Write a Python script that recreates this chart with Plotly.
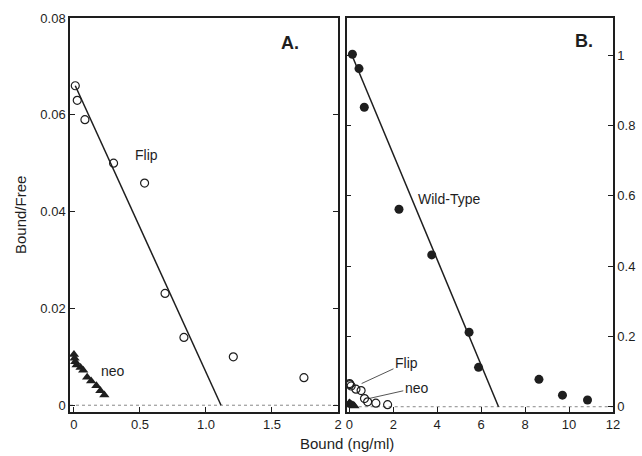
import plotly.graph_objects as go

# ---- data ----
flip_x = [0.01, 0.025, 0.083, 0.30, 0.535, 0.69, 0.833, 1.207, 1.742]
flip_y = [0.066, 0.063, 0.059, 0.050, 0.0459, 0.0231, 0.014, 0.0100, 0.0057]

neo_x = [0.00, 0.005, 0.01, 0.02, 0.05, 0.07, 0.10, 0.13, 0.17, 0.20, 0.23]
neo_y = [0.0105, 0.0097, 0.0090, 0.0083, 0.0078, 0.0072, 0.0058, 0.0050, 0.0040, 0.0030, 0.0021]

wt_x = [0.14, 0.44, 0.68, 2.26, 3.75, 5.45, 5.88, 8.63, 9.70, 10.84]
wt_y = [1.003, 0.962, 0.852, 0.562, 0.432, 0.212, 0.112, 0.078, 0.033, 0.019]

flip_fit_x = [0.01, 1.114]
flip_fit_y = [0.066, 0.0]
wt_fit_x = [0.10, 6.79]
wt_fit_y = [1.003, 0.0]

a_xticks = [0, 0.5, 1.0, 1.5, 2.0]
a_xtext = ["0", "0.5", "1.0", "1.5", "2"]
a_yticks = [0, 0.02, 0.04, 0.06, 0.08]
a_ytext = ["0", "0.02", "0.04", "0.06", "0.08"]
b_xticks = [0, 2, 4, 6, 8, 10, 12]
b_xtext = ["0", "2", "4", "6", "8", "10", "12"]
b_yticks = [0, 0.2, 0.4, 0.6, 0.8, 1.0]
b_ytext = ["0", "0.2", "0.4", "0.6", "0.8", "1"]

INK = "#1e1e1e"
FONT = "Liberation Sans, Arial, sans-serif"

open_marker = dict(symbol="circle-open", size=8, color=INK, line=dict(width=1.2, color=INK))
fill_marker = dict(symbol="circle", size=9, color=INK)
tri_marker = dict(symbol="triangle-up", size=9, color=INK)

fig = go.Figure()

# Panel A
fig.add_trace(go.Scatter(x=flip_fit_x, y=flip_fit_y, mode="lines", line=dict(color=INK, width=1.5),
                         xaxis="x", yaxis="y", showlegend=False))
fig.add_trace(go.Scatter(x=flip_x, y=flip_y, mode="markers", marker=open_marker,
                         xaxis="x", yaxis="y", showlegend=False))
fig.add_trace(go.Scatter(x=neo_x, y=neo_y, mode="markers", marker=tri_marker,
                         xaxis="x", yaxis="y", showlegend=False))

# Panel B
fig.add_trace(go.Scatter(x=wt_fit_x, y=wt_fit_y, mode="lines", line=dict(color=INK, width=1.5),
                         xaxis="x2", yaxis="y2", showlegend=False))
fig.add_trace(go.Scatter(x=wt_x, y=wt_y, mode="markers", marker=fill_marker,
                         xaxis="x2", yaxis="y2", showlegend=False))
fig.add_trace(go.Scatter(x=flip_x, y=flip_y, mode="markers", marker=open_marker,
                         xaxis="x2", yaxis="y2", showlegend=False))
fig.add_trace(go.Scatter(x=neo_x, y=neo_y, mode="markers", marker=tri_marker,
                         xaxis="x2", yaxis="y2", showlegend=False))

W, H = 642, 456


def px(p):
    return p / W


def py(p):
    return 1 - p / H


ydom = [py(412), py(18)]
axis_common = dict(showline=True, linecolor=INK, linewidth=1.5, showgrid=False, zeroline=False,
                   automargin=False,
                   ticks="inside", ticklen=5, tickwidth=1.2, tickcolor=INK,
                   tickfont=dict(family=FONT, size=13, color=INK))

fig.update_layout(
    width=W, height=H, autosize=False,
    margin=dict(l=0, r=0, t=0, b=0, pad=0),
    paper_bgcolor="white", plot_bgcolor="white",
    xaxis=dict(axis_common, domain=[px(70), px(338)], range=[-0.03, 2.0], anchor="y",
               tickvals=a_xticks, ticktext=a_xtext, mirror=True),
    yaxis=dict(axis_common, domain=ydom, range=[-0.0014, 0.08], anchor="x",
               tickvals=a_yticks, ticktext=a_ytext, mirror="ticks"),
    xaxis2=dict(axis_common, domain=[px(346.7), px(613)], range=[-0.12, 12.0], anchor="y2",
                tickvals=b_xticks, ticktext=b_xtext, mirror=True),
    yaxis2=dict(axis_common, domain=ydom, range=[-0.015, 1.106], anchor="x2", side="right",
                tickvals=b_yticks, ticktext=b_ytext, mirror="ticks"),
)

# dotted zero lines
for xr, yr in [("x", "y"), ("x2", "y2")]:
    fig.add_shape(type="line", xref=f"{xr} domain", yref=yr, x0=0, x1=1, y0=0, y1=0,
                  line=dict(color="#888888", width=1, dash="dot"), layer="below")

txt = dict(family=FONT, size=14, color=INK)
ann = [
    dict(x=0.55, y=0.0516, xref="x", yref="y", text="Flip", showarrow=False, font=txt),
    dict(x=0.295, y=0.0071, xref="x", yref="y", text="neo", showarrow=False, font=txt),
    dict(x=1.64, y=0.0749, xref="x", yref="y", text="<b>A.</b>", showarrow=False,
         font=dict(family=FONT, size=18, color=INK)),
    dict(x=3.04, y=0.59, xref="x2", yref="y2", text="Wild-Type", showarrow=False, font=txt, xanchor="left"),
    dict(x=10.7, y=1.041, xref="x2", yref="y2", text="<b>B.</b>", showarrow=False,
         font=dict(family=FONT, size=18, color=INK)),
    dict(x=0.56, y=0.066, xref="x2", yref="y2", ax=2.6, ay=0.125, axref="x2", ayref="y2",
         text="Flip", showarrow=True, arrowhead=0, arrowwidth=1, arrowcolor="#555555", font=txt),
    dict(x=0.94, y=0.024, xref="x2", yref="y2", ax=3.07, ay=0.054, axref="x2", ayref="y2",
         text="neo", showarrow=True, arrowhead=0, arrowwidth=1, arrowcolor="#555555", font=txt),
    dict(x=px(347), y=py(443), xref="paper", yref="paper", text="Bound (ng/ml)", showarrow=False,
         xanchor="center", yanchor="middle", font=dict(family=FONT, size=15, color=INK)),
    dict(x=px(20), y=py(215), xref="paper", yref="paper", text="Bound/Free", showarrow=False,
         xanchor="center", yanchor="middle", textangle=-90, font=dict(family=FONT, size=15, color=INK)),
]
fig.update_layout(annotations=ann)

fig.write_html(
    "out.html",
    config={"displayModeBar": False},
    post_script="document.documentElement.style.overflow='hidden';"
                "document.body.style.margin='0';document.body.style.overflow='hidden';",
)
